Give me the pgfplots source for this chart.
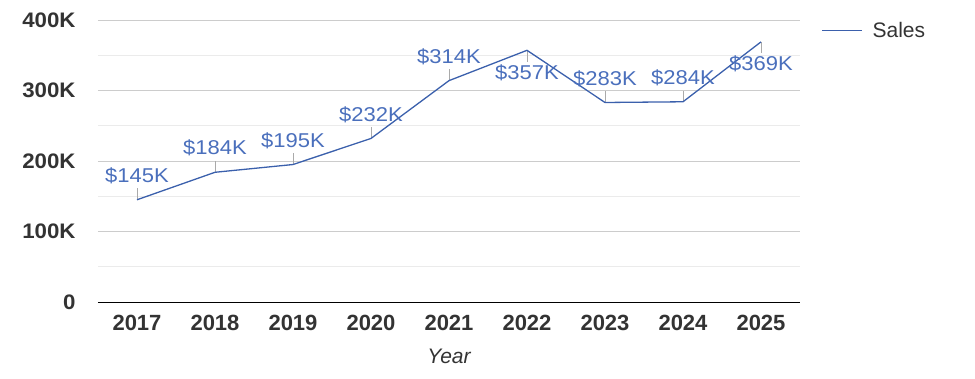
\documentclass[border=0pt]{standalone}
\usepackage{pgfplots}
\pgfplotsset{compat=1.18}
\usepackage{fontspec}
\setmainfont{Liberation Sans}
\newfontfamily\widefont[FakeStretch=1.1]{Liberation Sans}
\newfontfamily\ywide[FakeStretch=1.06]{Liberation Sans}
\definecolor{lineblue}{HTML}{3B60AC}
\definecolor{lblblue}{HTML}{4A6FBC}
\definecolor{txt}{HTML}{333333}
\definecolor{majgrid}{HTML}{CCCCCC}
\definecolor{mingrid}{HTML}{EBEBEB}
\definecolor{leader}{HTML}{AAAAAA}
\begin{document}
\begin{tikzpicture}
\begin{axis}[
  at={(0,0)}, anchor=south west,
  scale only axis, width=702pt, height=282pt,
  xmin=-0.5, xmax=8.5, ymin=0, ymax=400,
  xtick={0,...,8},
  xticklabels={2017,2018,2019,2020,2021,2022,2023,2024,2025},
  ytick={0,100,200,300,400},
  yticklabels={0,100K,200K,300K,400K},
  minor ytick={50,150,250,350},
  ymajorgrids, yminorgrids,
  major grid style={majgrid, line width=0.8pt},
  minor grid style={mingrid, line width=0.8pt},
  axis x line*=bottom, axis y line*=left,
  y axis line style={draw=none},
  x axis line style={black, line width=0.8pt, -},
  xtick style={draw=none}, ytick style={draw=none},
  minor tick style={draw=none},
  /pgf/number format/assume math mode=true,
  xticklabel style={font=\fontsize{22}{24}\selectfont\bfseries, text=txt, anchor=center, yshift=-21pt},
  yticklabel style={font=\ywide\fontsize{21}{23}\selectfont\bfseries, text=txt, anchor=east, xshift=-19pt},
  xlabel={Year},
  xlabel style={font=\fontsize{21}{23}\selectfont\itshape, text=txt, anchor=center, at={(axis description cs:0.5,0)}, yshift=-54pt},
  legend style={at={(1,1)}, anchor=north west, xshift=18pt, yshift=2pt, draw=none, fill=none,
    font=\fontsize{21}{23}\selectfont, text=txt},
  legend cell align=left,
  legend image code/.code={\draw[lineblue, line width=1.6pt] (0pt,0pt) -- (40pt,0pt); \path (48pt,0pt);},
  clip=false,
]
% leader lines (up)
\addplot+[draw=none, mark=none, forget plot,
  error bars/.cd, y dir=plus, y explicit,
  error bar style={leader, line width=0.8pt}, error mark=none]
  coordinates {(0,145) +- (0,16) (1,184) +- (0,16) (2,195) +- (0,16) (3,232) +- (0,16)
               (4,314) +- (0,16) (6,283) +- (0,16) (7,284) +- (0,16)};
% leader lines (down)
\addplot+[draw=none, mark=none, forget plot,
  error bars/.cd, y dir=minus, y explicit,
  error bar style={leader, line width=0.8pt}, error mark=none]
  coordinates {(5,357) +- (0,16) (8,369) +- (0,16)};
% main line
\addplot[lineblue, line width=1.3pt, mark=none]
  coordinates {(0,145) (1,184) (2,195) (3,232) (4,314) (5,357) (6,283) (7,284) (8,369)};
\addlegendentry{Sales}
% labels above
\addplot[draw=none, mark=none, forget plot,
  nodes near coords, point meta=explicit symbolic,
  every node near coord/.append style={anchor=center, yshift=24pt, text=lblblue,
     font=\widefont\fontsize{20}{22}\selectfont}]
  coordinates {(0,145)[\$145K] (1,184)[\$184K] (2,195)[\$195K] (3,232)[\$232K]
               (4,314)[\$314K] (6,283)[\$283K] (7,284)[\$284K]};
% labels below
\addplot[draw=none, mark=none, forget plot,
  nodes near coords, point meta=explicit symbolic,
  every node near coord/.append style={anchor=center, yshift=-22pt, text=lblblue,
     font=\widefont\fontsize{20}{22}\selectfont}]
  coordinates {(5,357)[\$357K] (8,369)[\$369K]};
\end{axis}
\pgfresetboundingbox
\path[use as bounding box] (-98pt,-76pt) rectangle (877pt,302pt);
\end{tikzpicture}
\end{document}
